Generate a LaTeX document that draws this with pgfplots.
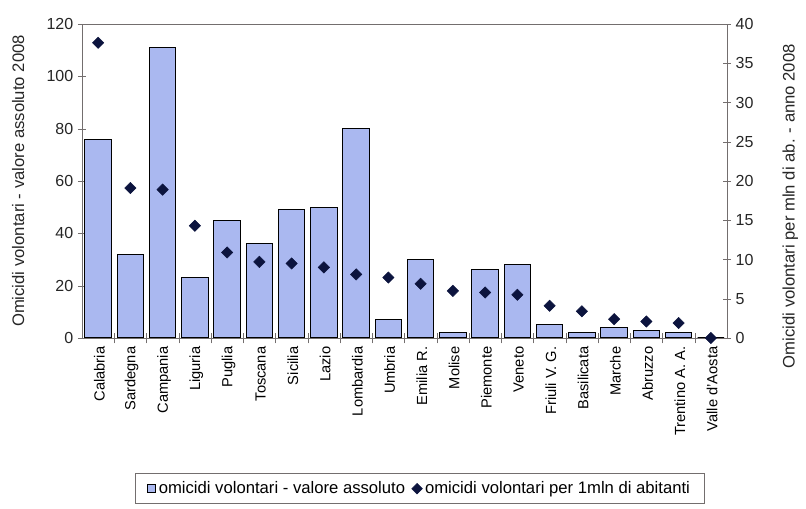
\documentclass[border=0pt]{standalone}
\usepackage{pgfplots}
\pgfplotsset{compat=1.18}
\usepackage{fontspec}
\setmainfont{Liberation Sans}
\definecolor{barblue}{RGB}{170,184,240}
\definecolor{dia}{RGB}{12,20,62}
\definecolor{axgray}{RGB}{115,110,110}
\begin{document}
\begin{tikzpicture}
\useasboundingbox (-61.5pt,-128.25pt) rectangle (543pt,253.5pt);
\begin{axis}[
  at={(0,0)}, anchor=south west,
  scale only axis, width=483.75pt, height=235.5pt,
  xmin=-0.5, xmax=19.5, ymin=0, ymax=120,
  ytick={0,20,...,120}, ytick pos=left,
  xtick={0,...,19}, xtick pos=bottom,
  xticklabels={Calabria,Sardegna,Campania,Liguria,Puglia,Toscana,Sicilia,Lazio,Lombardia,Umbria,Emilia R.,Molise,Piemonte,Veneto,Friuli V. G.,Basilicata,Marche,Abruzzo,Trentino A. A.,Valle d'Aosta},
  x tick label style={rotate=90, anchor=east, font=\fontsize{11}{13}\selectfont, yshift=-1pt},
  major x tick style={draw=none},
  minor xtick={0.5,1.5,...,18.5},
  minor tick length=8pt,
  major tick length=6pt,
  tick align=center,
  axis line style={axgray},
  tick style={axgray},
  /pgf/number format/assume math mode=true,
  y tick label style={font=\fontsize{12}{14}\selectfont, color=black!85},
  ylabel={Omicidi volontari - valore assoluto 2008},
  ylabel style={at={(axis description cs:-0.099,0.5)}, anchor=center, rotate=0, font=\fontsize{12.5}{15}\selectfont, color=black!85},
]
\addplot[ybar, bar width=0.82, fill=barblue, draw=black, line width=0.8pt] coordinates {
(0,76) (1,32) (2,111) (3,23) (4,45) (5,36) (6,49) (7,50) (8,80) (9,7)
(10,30) (11,2) (12,26) (13,28) (14,5) (15,2) (16,4) (17,3) (18,2) (19,0)
};
\end{axis}
\begin{axis}[
  at={(0,0)}, anchor=south west,
  scale only axis, width=483.75pt, height=235.5pt,
  xmin=-0.5, xmax=19.5, ymin=0, ymax=40,
  axis x line=none, axis y line*=right,
  ytick={0,5,...,40},
  major tick length=6pt, tick align=center,
  axis line style={axgray}, tick style={axgray},
  /pgf/number format/assume math mode=true,
  y tick label style={font=\fontsize{12}{14}\selectfont, color=black!85},
  ylabel={Omicidi volontari per mln di ab. - anno 2008},
  ylabel style={at={(axis description cs:1.098,0.42)}, anchor=center, rotate=0, font=\fontsize{12.5}{15}\selectfont, color=black!85},
  legend columns=2,
  legend style={at={(axis description cs:0.524,-0.48)}, anchor=center, draw=axgray, font=\fontsize{12.5}{15}\selectfont, inner xsep=9pt, inner ysep=4pt, /tikz/every even column/.append style={column sep=3pt}},
  legend cell align=left,
]
\addlegendimage{legend image code/.code={\draw[fill=barblue, draw=black, line width=0.6pt] (0pt,-3pt) rectangle (6pt,3pt);}}
\addplot[only marks, mark=square*, mark size=3pt, mark options={rotate=45}, color=dia,
  legend image code/.code={\draw[mark=square*, mark size=2.8pt, mark options={rotate=45}, color=dia] plot coordinates {(3pt,0pt)};}] coordinates {
(0,37.6) (1,19.1) (2,18.9) (3,14.3) (4,10.9) (5,9.7) (6,9.5) (7,9.0) (8,8.1) (9,7.7)
(10,6.9) (11,6.0) (12,5.8) (13,5.5) (14,4.1) (15,3.4) (16,2.4) (17,2.1) (18,1.9) (19,0)
};
\legend{omicidi volontari - valore assoluto, omicidi volontari per 1mln di abitanti}
\end{axis}
\end{tikzpicture}
\end{document}
